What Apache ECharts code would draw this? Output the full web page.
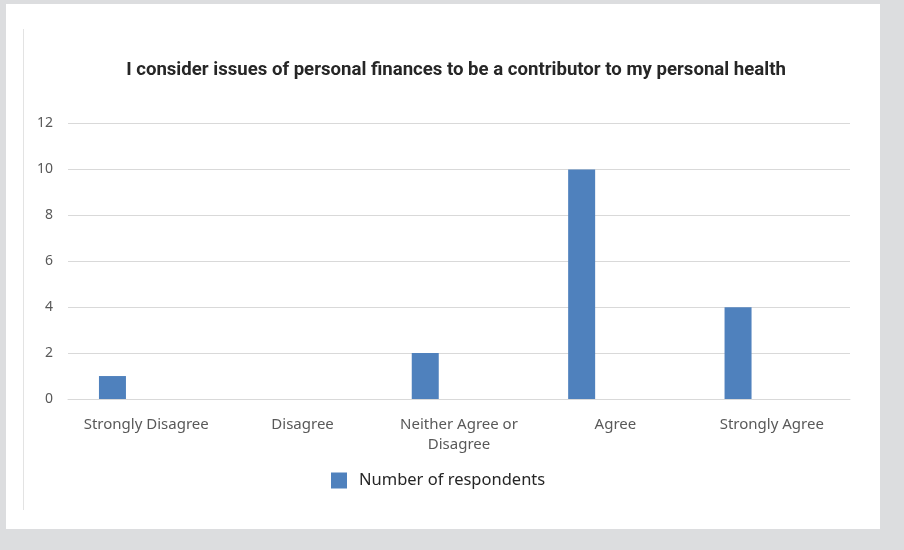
<!DOCTYPE html>
<html>
<head>
<meta charset="utf-8">
<script src="https://cdn.jsdelivr.net/npm/echarts@6/dist/echarts.min.js"></script>
<style>
  html, body { margin: 0; padding: 0; background: #dcdddf; }
  #chart { width: 904px; height: 550px; }
</style>
</head>
<body>
<div id="chart"></div>
<script>
// Survey responses: personal finances as a contributor to personal health
const categories = ['Strongly Disagree', 'Disagree', 'Neither Agree or\nDisagree', 'Agree', 'Strongly Agree'];
const respondents = [1, 0, 2, 10, 4];
const seriesName = 'Number of respondents';
const yTicks = { min: 0, max: 12, interval: 2 };

const chart = echarts.init(document.getElementById('chart'), null, { renderer: 'canvas' });

chart.setOption({
  backgroundColor: '#dcdddf',
  animation: false,
  graphic: [
    { type: 'rect', z: -10, shape: { x: 6, y: 4, width: 874, height: 525 }, style: { fill: '#ffffff' } },
    { type: 'line', z: -9, shape: { x1: 23.5, y1: 29, x2: 23.5, y2: 510 }, style: { stroke: '#e3e3e3', lineWidth: 1 } }
  ],
  title: {
    text: 'I consider issues of personal finances to be a contributor to my personal health',
    left: 451,
    textAlign: 'center',
    top: 56,
    textStyle: { fontFamily: 'Roboto', fontWeight: 'bold', fontSize: 18.6, color: '#262626' }
  },
  legend: {
    data: [seriesName],
    left: 331,
    top: 472,
    padding: 0,
    itemWidth: 16,
    itemHeight: 16,
    itemGap: 10,
    icon: 'rect',
    textStyle: { fontFamily: 'Noto Sans', fontSize: 16.5, color: '#262626', padding: [0, 0, 0, 7] }
  },
  grid: { left: 68, right: 54, top: 123.5, bottom: 151, containLabel: false },
  xAxis: {
    type: 'category',
    data: categories,
    axisLine: { lineStyle: { color: '#d9d9d9', width: 1 } },
    axisTick: { show: false },
    axisLabel: {
      interval: 0,
      margin: 16,
      color: '#595959',
      fontFamily: 'Noto Sans',
      fontSize: 15,
      lineHeight: 20
    }
  },
  yAxis: {
    type: 'value',
    min: yTicks.min,
    max: yTicks.max,
    interval: yTicks.interval,
    axisLine: { show: false },
    axisTick: { show: false },
    splitLine: { lineStyle: { color: '#d9d9d9', width: 1 } },
    axisLabel: { margin: 15, color: '#595959', fontFamily: 'Noto Sans', fontSize: 14 }
  },
  series: [
    {
      name: seriesName,
      type: 'bar',
      data: respondents,
      barWidth: 27,
      barGap: '150%',
      itemStyle: { color: '#4f81bd' }
    },
    {
      // empty companion series keeps the bars in the left slot of each category
      name: 'placeholder',
      type: 'bar',
      data: categories.map(() => null),
      barWidth: 27,
      itemStyle: { color: 'transparent' }
    }
  ]
});
</script>
</body>
</html>
